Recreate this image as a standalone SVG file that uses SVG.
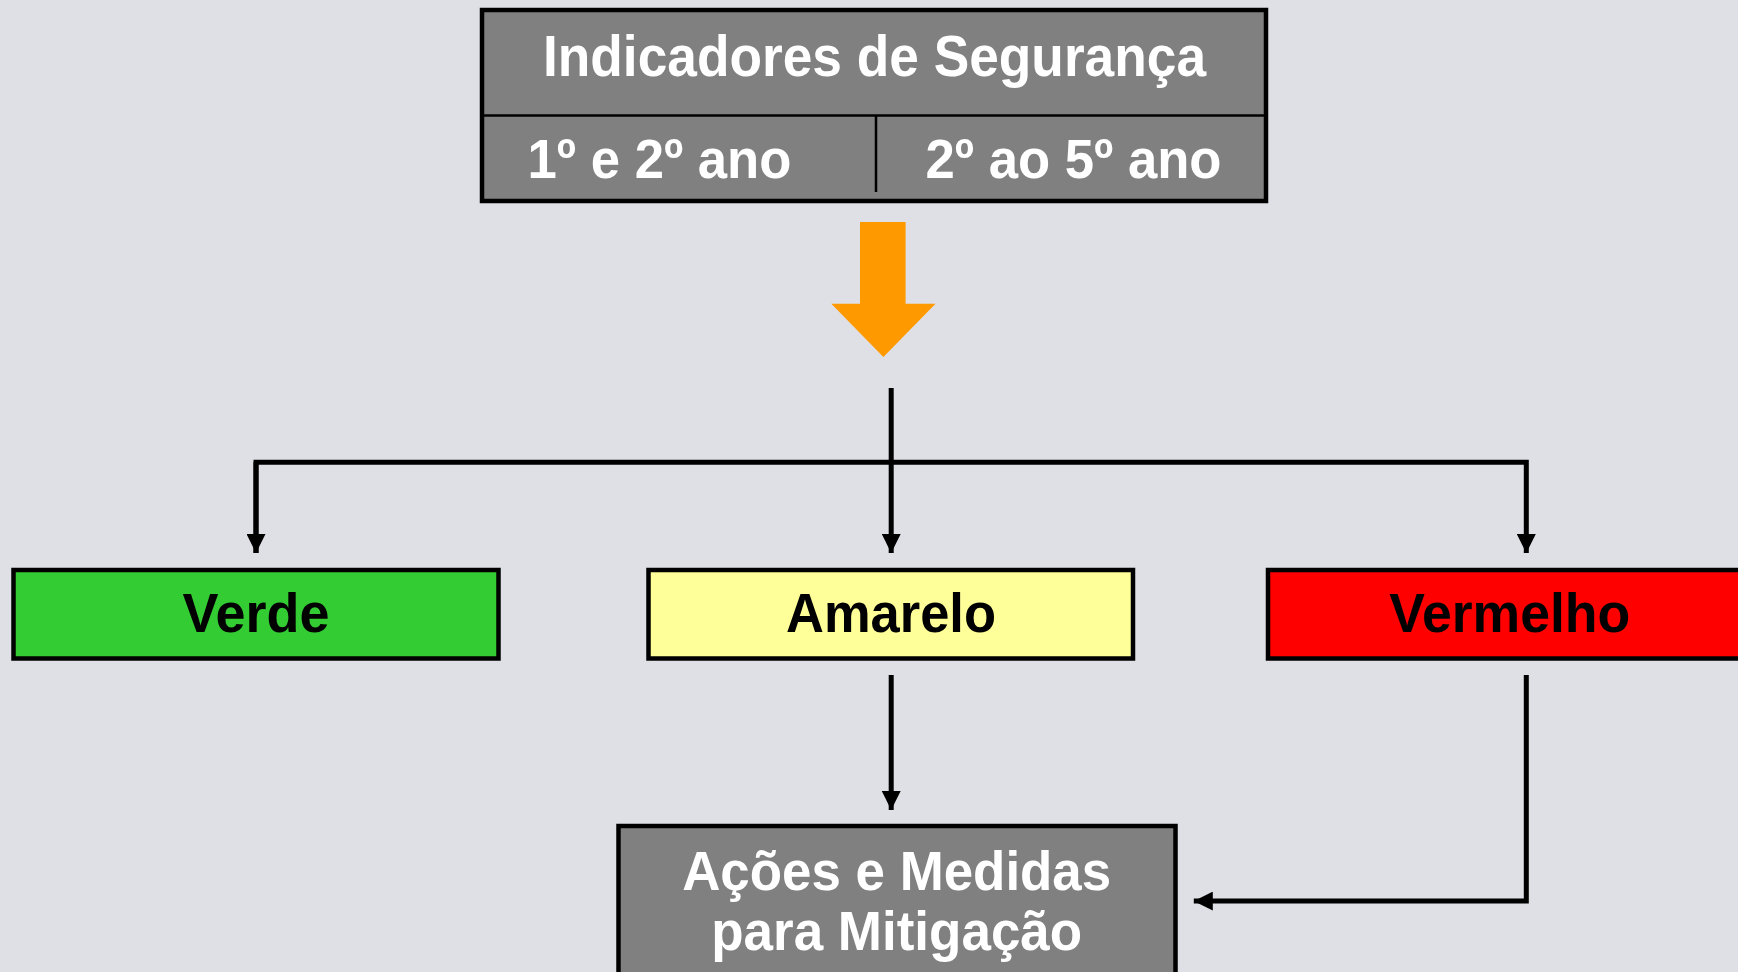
<svg xmlns="http://www.w3.org/2000/svg" width="1738" height="972" viewBox="0 0 1738 972">
<style>
.bg{fill:#DFE0E5}
.box{stroke:#000;stroke-width:4.5}
.gray{fill:#808080}
.t{font-family:"Liberation Sans",Arial,sans-serif;font-weight:bold;text-anchor:middle}
.w{fill:#fff}
.k{fill:#000}
.con{fill:none;stroke:#000;stroke-width:5}
</style>
<defs>
<marker id="arr" viewBox="0 0 18 18" refX="18" refY="9" markerWidth="19" markerHeight="19" orient="auto" markerUnits="userSpaceOnUse">
<path d="M0,0 L18,9 L0,18 z" fill="#000"/>
</marker>
</defs>
<rect class="bg" x="0" y="0" width="1738" height="972"/>

<g id="indicadores">
<rect class="box gray" x="482" y="10" width="784" height="191"/>
<line x1="484" y1="115.5" x2="1264" y2="115.5" stroke="#000" stroke-width="2.5"/>
<line x1="876" y1="115.5" x2="876" y2="192" stroke="#000" stroke-width="2.5"/>
<text class="t w" x="874.5" y="75.5" font-size="57" textLength="663" lengthAdjust="spacingAndGlyphs">Indicadores de Segurança</text>
<text class="t w" x="659.5" y="177.5" font-size="56" textLength="264" lengthAdjust="spacingAndGlyphs">1º e 2º ano</text>
<text class="t w" x="1073.5" y="177.5" font-size="56" textLength="296" lengthAdjust="spacingAndGlyphs">2º ao 5º ano</text>
</g>

<g id="seta-laranja">
<polygon points="860,222 905.6,222 905.6,303.7 935.5,303.7 883.4,357 831.3,303.7 860,303.7" fill="#FF9900"/>
</g>

<g id="connectors">
<line class="con" x1="891.2" y1="388" x2="891.2" y2="553" marker-end="url(#arr)"/>
<polyline class="con" points="256,553 256,462.2 1526.3,462.2 1526.3,553" marker-end="url(#arr)"/>
<line class="con" x1="256" y1="462.2" x2="256" y2="553" marker-end="url(#arr)"/>
<line class="con" x1="891.2" y1="675" x2="891.2" y2="810" marker-end="url(#arr)"/>
<polyline class="con" points="1526.3,675 1526.3,901.1 1193.8,901.1" marker-end="url(#arr)"/>
</g>

<g id="verde">
<rect class="box" fill="#33CC33" x="13.5" y="570" width="485" height="88.5"/>
<text class="t k" x="256" y="632" font-size="55" textLength="147" lengthAdjust="spacingAndGlyphs">Verde</text>
</g>

<g id="amarelo">
<rect class="box" fill="#FFFF99" x="648.5" y="570" width="484.5" height="88.5"/>
<text class="t k" x="891" y="632" font-size="55" textLength="210" lengthAdjust="spacingAndGlyphs">Amarelo</text>
</g>

<g id="vermelho">
<rect class="box" fill="#FF0000" x="1268" y="570" width="480" height="88.5"/>
<text class="t k" x="1509.7" y="632" font-size="55" textLength="241" lengthAdjust="spacingAndGlyphs">Vermelho</text>
</g>

<g id="acoes">
<rect class="box gray" x="618.5" y="826" width="557" height="160"/>
<text class="t w" x="896.7" y="890" font-size="56" textLength="429" lengthAdjust="spacingAndGlyphs">Ações e Medidas</text>
<text class="t w" x="896.7" y="950" font-size="56" textLength="371" lengthAdjust="spacingAndGlyphs">para Mitigação</text>
</g>
</svg>
